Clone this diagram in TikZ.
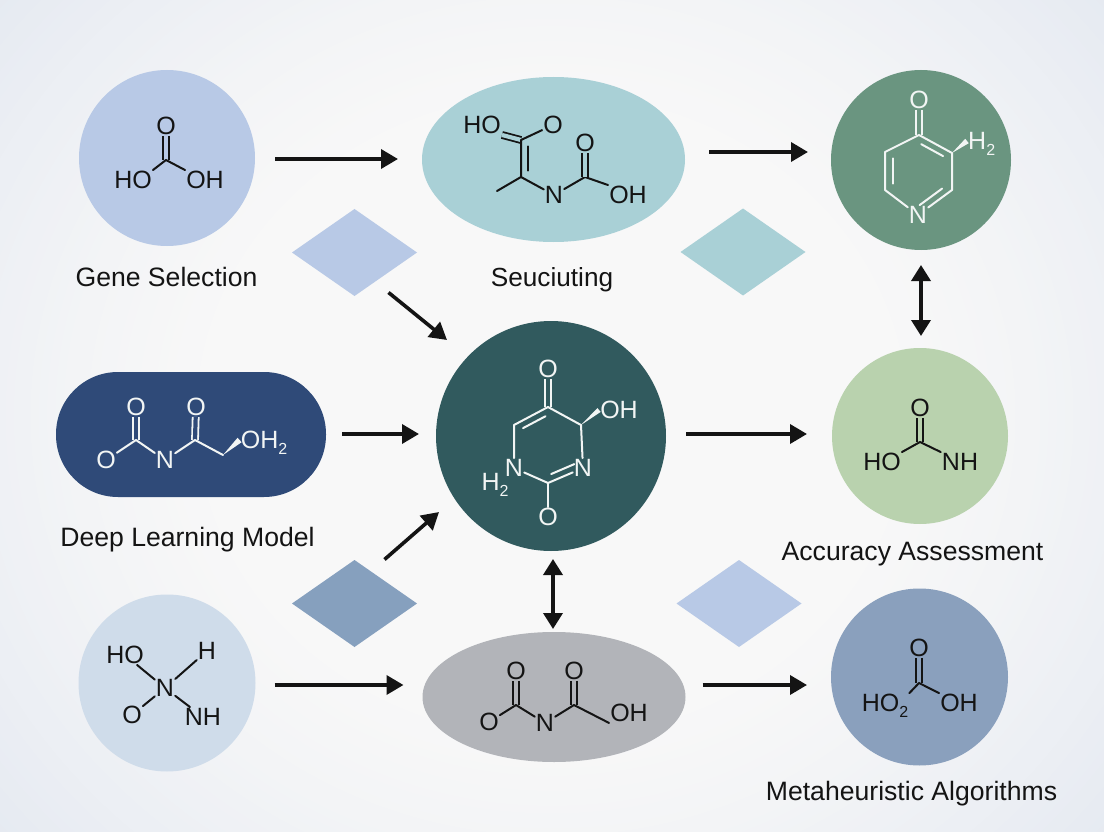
\documentclass[tikz,border=0pt]{standalone}
\usepackage{fontspec}
\setmainfont{Liberation Sans}
\usetikzlibrary{arrows.meta,shapes.geometric,calc}
\definecolor{bgA}{HTML}{F8F8F8}
\definecolor{bgG}{HTML}{DFE5EF}
\definecolor{cBlue}{HTML}{B8C9E6}
\definecolor{cTeal}{HTML}{A9D0D6}
\definecolor{cGreen}{HTML}{6A9580}
\definecolor{cNavy}{HTML}{2F4A78}
\definecolor{cCore}{HTML}{315A5E}
\definecolor{cLime}{HTML}{B9D2AE}
\definecolor{cPale}{HTML}{CFDCEA}
\definecolor{cGray}{HTML}{B2B4B9}
\definecolor{cSteel}{HTML}{8AA0BD}
\definecolor{cDiaC}{HTML}{86A0BE}
\definecolor{ink}{HTML}{141414}
\definecolor{snow}{HTML}{F2F5F4}
\newcommand{\ringinner}[5]{\draw[#1] ($(#2)!.17!(#3)!#4pt!#5:(#3)$) -- ($(#3)!.17!(#2)!#4pt!-#5:(#2)$);}
\newcommand{\wedgebond}[4]{\fill[#1] (#2) -- ($(#3)!#4pt!90:(#2)$) -- ($(#3)!#4pt!-90:(#2)$) -- cycle;}
\newcommand{\lowtwo}{\raisebox{-6pt}{\fontsize{16}{16}\selectfont 2}}
\tikzset{
  blob/.style={draw=none,inner sep=0pt,outer sep=0pt},
  roundel/.style={blob,circle,fill=#1},
  oval/.style={blob,ellipse,fill=#1,minimum width=263pt},
  gem/.style={blob,diamond,fill=#1,minimum width=125pt,minimum height=87pt},
  arr/.style={-{Triangle[length=17pt,width=19pt]},line width=3.6pt,ink},
  arrtwo/.style={{Triangle[length=16pt,width=19pt]}-{Triangle[length=16pt,width=19pt]},line width=3.6pt,ink},
  caption/.style={inner sep=0pt,text=ink,font=\fontsize{26.6}{27}\selectfont,text height=19pt,text depth=0pt},
  atomk/.style={inner sep=1pt,text=ink,font=\fontsize{25}{25}\selectfont,text height=17.5pt,text depth=0pt},
  atomw/.style={inner sep=1pt,text=snow,font=\fontsize{25}{25}\selectfont,text height=17.5pt,text depth=0pt},
  bk/.style={draw=ink,line width=2pt,line cap=round,line join=round},
  bw/.style={draw=snow,line width=2pt,line cap=round,line join=round},
  dk/.style={draw=ink,line width=1.8pt,double=#1,double distance=4.2pt},
  dw/.style={draw=snow,line width=1.8pt,double=#1,double distance=4.2pt},
}
\begin{document}
\begin{tikzpicture}[x=1pt,y=-1pt]
\useasboundingbox (0,0) rectangle (1104,832);
\begin{scope}
\clip (0,0) rectangle (1104,832);
\fill[bgG] (0,0) rectangle (1104,832);
\foreach \i in {60,...,0}{
  \pgfmathsetmacro{\rr}{0.6+\i*0.015}
  \pgfmathsetmacro{\pp}{min(100,pow(\i/60,1.3)*100)}
  \fill[bgG!\pp!bgA] (552,416) ellipse [x radius=552*\rr,y radius=500*\rr];
}
\end{scope}

% main shapes
\node[roundel=cBlue,minimum size=176pt] (gene) at (167,158) {};
\node[oval=cTeal,minimum height=165pt] (seq) at (553.5,159.5) {};
\node[roundel=cGreen,minimum size=180pt] (pyr) at (921,160) {};
\node[blob,rectangle,rounded corners=62pt,fill=cNavy,minimum width=270pt,minimum height=125pt] (deep) at (191,434.5) {};
\node[roundel=cCore,minimum size=230pt] (core) at (551,436) {};
\node[roundel=cLime,minimum size=176pt] (acc) at (920,436) {};
\node[roundel=cPale,minimum size=177pt] (hyd) at (167,683) {};
\node[oval=cGray,minimum height=130pt] (gray) at (554,697) {};
\node[roundel=cSteel,minimum size=177pt] (meta) at (919.5,677) {};

% diamonds
\node[gem=cBlue] (da) at (354.5,252.5) {};
\node[gem=cTeal] (db) at (743,252) {};
\node[gem=cDiaC] (dc) at (354.5,603.5) {};
\node[gem=cBlue] (dd) at (739,603.5) {};

% captions
\node[caption] (lgene) at (166.5,277) {Gene Selection};
\node[caption,font=\fontsize{26.2}{27}\selectfont] (lseq) at (552,277) {Seuciuting};
\node[caption] (ldeep) at (187.5,537) {Deep Learning Model};
\node[caption] (lacc) at (912.5,551) {Accuracy Assessment};
\node[caption] (lmeta) at (911.5,791) {Metaheuristic Algorithms};

% molecule: gene
\node[atomk] (ga) at (166,126) {O};
\node[atomk] (gb) at (133,180) {HO};
\node[atomk] (gd) at (205,180) {OH};
\coordinate (gc) at (166,160);
\draw[dk=cBlue] (ga) -- (gc);
\draw[bk] (gb.north east) -- (gc) -- (gd.north west);

% molecule: sequencing
\node[atomk] (sa) at (482,125) {HO};
\node[atomk] (sb) at (553,125) {O};
\node[atomk] (sn) at (554,195) {N};
\node[atomk] (so) at (585,143) {O};
\node[atomk] (sh) at (628,195) {OH};
\coordinate (s1) at (521,140);
\coordinate (s2) at (521,177);
\coordinate (s3) at (585,177);
\coordinate (sm) at (497,191);
\draw[dk=cTeal] (sa.south east) -- (s1);
\draw[bk] (sb) -- (s1) -- (s2) -- (sm);
\ringinner{bk}{s1}{s2}{7}{90}
\draw[bk] (s2) -- (sn);
\draw[bk] (sn) -- (s3);
\draw[bk] (s3) -- (sh.north west);
\draw[dk=cTeal] (so) -- (s3);

% molecule: pyridone
\node[atomw] (pa) at (919,100) {O};
\node[atomw] (pn) at (918,215) {N};
\node[atomw,anchor=west] (ph) at (967,141) {H\lowtwo};
\coordinate (p1) at (919,135);
\coordinate (p2) at (952,153);
\coordinate (p3) at (952,190);
\coordinate (p4) at (885,190);
\coordinate (p5) at (885,152);
\draw[dw=cGreen] (pa) -- (p1);
\draw[bw] (p5) -- (p1) -- (p2) -- (p3) -- (pn);
\draw[bw] (pn) -- (p4) -- (p5);
\ringinner{bw}{p1}{p2}{7}{-90}
\ringinner{bw}{p3}{pn}{7}{-90}
\ringinner{bw}{p4}{p5}{8}{-90}
\wedgebond{snow}{p2}{ph.west}{2.8}

% molecule: deep learning
\node[atomw] (da1) at (136,407) {O};
\node[atomw] (da2) at (106,460) {O};
\node[atomw] (dan) at (165,460) {N};
\node[atomw] (da3) at (196,407) {O};
\node[atomw] (da4) at (264,440) {OH\lowtwo};
\coordinate (dc1) at (136,440);
\coordinate (dc2) at (195,440);
\coordinate (dc3) at (223,455);
\draw[dw=cNavy] (da1) -- (dc1);
\draw[dw=cNavy] (da3) -- (dc2);
\draw[bw] (da2) -- (dc1) -- (dan);
\draw[bw] (dan) -- (dc2) -- (dc3);
\wedgebond{snow}{dc3}{da4.west}{3}

% molecule: core
\node[atomw] (ca) at (548,369) {O};
\node[atomw] (cb) at (548,517) {O};
\node[atomw] (cn1) at (514,468) {N};
\node[atomw] (cn2) at (583,468) {N};
\node[atomw] (co) at (619,410) {OH};
\node[atomw] (ch) at (495,482) {H\lowtwo};
\coordinate (c1) at (548,407);
\coordinate (c2) at (514,425);
\coordinate (c3) at (581,425);
\coordinate (c4) at (548,483);
\draw[dw=cCore] (ca) -- (c1);
\draw[bw] (c1) -- (c2) -- (cn1);
\draw[bw] (cn1) -- (c4) -- (cn2);
\draw[bw] (cn2) -- (c3) -- (c1);
\draw[bw] (c4) -- (cb);
\ringinner{bw}{c1}{c2}{7}{90}
\ringinner{bw}{c4}{cn2}{7}{90}
\wedgebond{snow}{c3}{co.west}{2.5}

% molecule: accuracy
\node[atomk] (aa) at (920,408) {O};
\node[atomk] (ab) at (882,462) {HO};
\node[atomk] (ad) at (960,462) {NH};
\coordinate (ac) at (920,442);
\draw[dk=cLime] (aa) -- (ac);
\draw[bk] (ab.north east) -- (ac) -- (ad.north west);

% molecule: hydroxy
\node[atomk] (hn) at (165,688) {N};
\node[atomk] (ha) at (125,655) {HO};
\node[atomk] (hb) at (207,651) {H};
\node[atomk] (hc) at (132,715) {O};
\node[atomk] (hd) at (203,717) {NH};
\draw[bk] (ha) -- (hn);
\draw[bk] (hb) -- (hn);
\draw[bk] (hc) -- (hn);
\draw[bk] (hd) -- (hn);

% molecule: gray
\node[atomk] (ya) at (516,671) {O};
\node[atomk] (yb) at (489,722) {O};
\node[atomk] (yn) at (545,723) {N};
\node[atomk] (yd) at (574,671) {O};
\node[atomk] (yh) at (629,713) {OH};
\coordinate (y1) at (516,705);
\coordinate (y2) at (574,705);
\draw[dk=cGray] (ya) -- (y1);
\draw[dk=cGray] (yd) -- (y2);
\draw[bk] (yb) -- (y1) -- (yn);
\draw[bk] (yn) -- (y2) -- (yh.south west);

% molecule: metaheuristic
\node[atomk] (ma) at (919,648) {O};
\node[atomk] (mb) at (885,703) {HO\lowtwo};
\node[atomk] (md) at (959,703) {OH};
\coordinate (mc) at (919,683);
\draw[dk=cSteel] (ma) -- (mc);
\draw[bk] (mb.north east) -- (mc) -- (md.north west);

% connectors
\draw[arr] ([shift={(20,1)}]gene.east) -- ([shift={(-24,-0.5)}]seq.west);
\draw[arr] ([shift={(24,-7.5)}]seq.east) -- ([shift={(-23,-8)}]pyr.west);
\draw[arr] ([shift={(34,40)}]da.center) -- ([shift={(-104,-96)}]core.center);
\draw[arr] ([shift={(16,-0.5)}]deep.east) -- ([shift={(-17,-2)}]core.west);
\draw[arr] ([shift={(20,-2)}]core.east) -- ([shift={(-25,-2)}]acc.west);
\draw[arr] ([shift={(30,-44)}]dc.center) -- ([shift={(-112,76)}]core.center);
\draw[arrtwo] ([shift={(0,15)}]pyr.south) -- ([shift={(1,-12)}]acc.north);
\draw[arrtwo] ([shift={(2,8)}]core.south) -- ([shift={(-1,-3)}]gray.north);
\draw[arr] ([shift={(19,2)}]hyd.east) -- ([shift={(-19,-12)}]gray.west);
\draw[arr] ([shift={(17,-12)}]gray.east) -- ([shift={(-24,8)}]meta.west);
\end{tikzpicture}
\end{document}
